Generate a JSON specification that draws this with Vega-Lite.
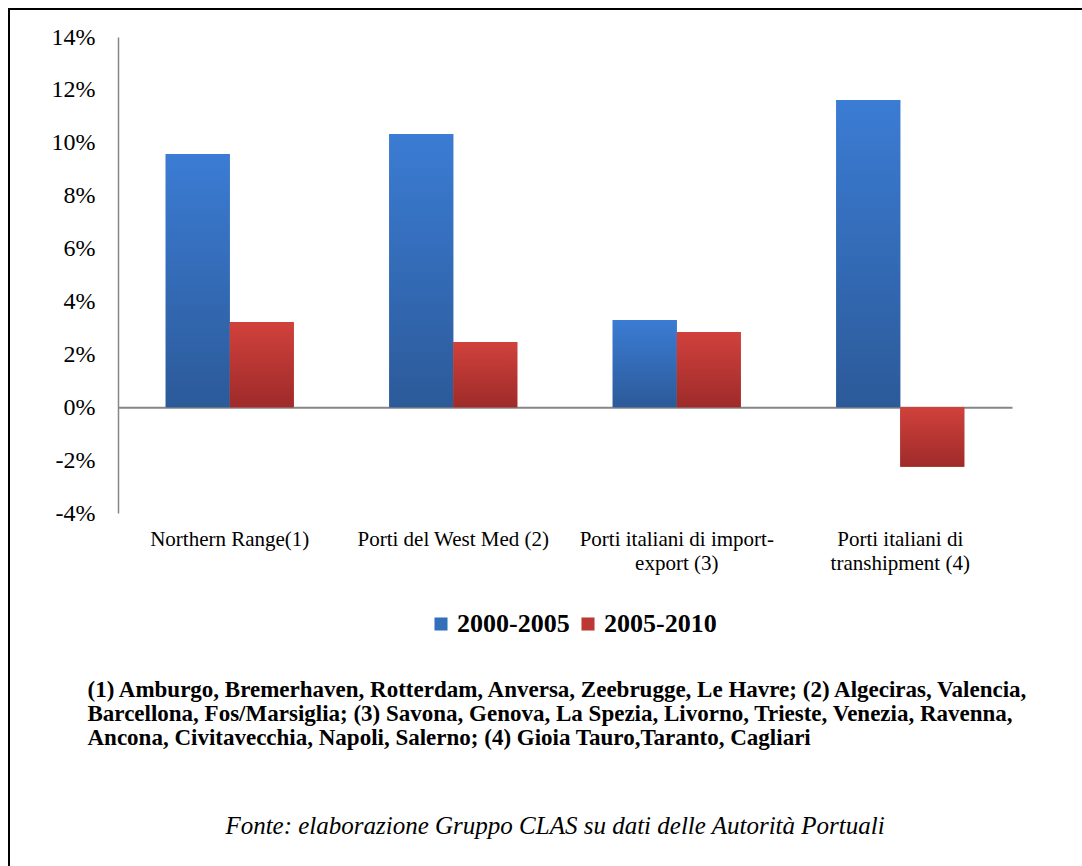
{
  "$schema": "https://vega.github.io/schema/vega-lite/v6.json",
  "width": 1076,
  "height": 860,
  "autosize": {"type": "none"},
  "padding": {"left": 9, "top": 9, "right": -3, "bottom": -3},
  "background": "white",
  "config": {
    "view": {"stroke": "black", "strokeWidth": 2},
    "font": "Liberation Serif, Times New Roman, DejaVu Serif, serif"
  },
  "title": {
    "text": "Fonte: elaborazione Gruppo CLAS su dati delle Autorità Portuali",
    "orient": "bottom",
    "anchor": "middle",
    "frame": "group",
    "offset": -55,
    "dx": 8,
    "baseline": "top",
    "font": "Liberation Serif, Times New Roman, DejaVu Serif, serif",
    "fontSize": 25,
    "fontStyle": "italic",
    "fontWeight": "normal",
    "color": "black"
  },
  "data": {
    "values": [
      {"porto": "Northern Range(1)", "periodo": "2000-2005", "variazione": 0.0958},
      {"porto": "Northern Range(1)", "periodo": "2005-2010", "variazione": 0.0322},
      {"porto": "Porti del West Med (2)", "periodo": "2000-2005", "variazione": 0.1033},
      {"porto": "Porti del West Med (2)", "periodo": "2005-2010", "variazione": 0.0247},
      {"porto": "Porti italiani di import-export (3)", "periodo": "2000-2005", "variazione": 0.0330},
      {"porto": "Porti italiani di import-export (3)", "periodo": "2005-2010", "variazione": 0.0284},
      {"porto": "Porti italiani di transhipment (4)", "periodo": "2000-2005", "variazione": 0.1162},
      {"porto": "Porti italiani di transhipment (4)", "periodo": "2005-2010", "variazione": -0.0225}
    ]
  },
  "encoding": {
    "xOffset": {"field": "periodo", "type": "nominal", "sort": ["2000-2005", "2005-2010"]},
    "y": {
      "field": "variazione",
      "type": "quantitative",
      "scale": {"domain": [-0.04, 0.14], "range": [504, 28], "nice": false},
      "axis": {
        "orient": "left",
        "offset": -109,
        "values": [-0.04, -0.02, 0, 0.02, 0.04, 0.06, 0.08, 0.1, 0.12, 0.14],
        "labelExpr": "(datum.value < 0 ? '-' : '') + format(abs(datum.value), '.0%')",
        "grid": false,
        "ticks": false,
        "domain": true,
        "domainColor": "#868686",
        "domainWidth": 1.5,
        "labelFont": "Liberation Serif, Times New Roman, DejaVu Serif, serif",
        "labelFontSize": 24,
        "labelColor": "black",
        "labelPadding": 23,
        "title": null
      }
    }
  },
  "layer": [
    {
      "mark": {"type": "bar"},
      "encoding": {
        "x": {
          "field": "porto",
          "type": "nominal",
          "sort": null,
          "scale": {"range": [109, 1003], "paddingInner": 0.427, "paddingOuter": 0.2135},
          "axis": {
            "orient": "bottom",
            "offset": -356,
            "domain": false,
            "ticks": false,
            "grid": false,
            "labelAngle": 0,
            "labelFont": "Liberation Serif, Times New Roman, DejaVu Serif, serif",
            "labelFontSize": 21,
            "labelLineHeight": 24,
            "labelPadding": 15,
            "labelColor": "black",
            "labelLimit": 0,
            "labelExpr": "datum.value == 'Porti italiani di import-export (3)' ? ['Porti italiani di import-', 'export (3)'] : datum.value == 'Porti italiani di transhipment (4)' ? ['Porti italiani di', 'transhipment (4)'] : datum.value",
            "title": [
              "(1) Amburgo, Bremerhaven, Rotterdam, Anversa, Zeebrugge, Le Havre; (2) Algeciras, Valencia,",
              "Barcellona, Fos/Marsiglia; (3) Savona, Genova, La Spezia, Livorno, Trieste, Venezia, Ravenna,",
              "Ancona, Civitavecchia, Napoli, Salerno; (4) Gioia Tauro,Taranto, Cagliari"
            ],
            "titleFont": "Liberation Serif, Times New Roman, DejaVu Serif, serif",
            "titleFontSize": 23,
            "titleFontWeight": "bold",
            "titleLineHeight": 24,
            "titleColor": "black",
            "titleAngle": 0,
            "titleAlign": "left",
            "titleBaseline": "top",
            "titleX": 78,
            "titleY": 165
          }
        },
        "color": {
          "field": "periodo",
          "type": "nominal",
          "scale": {"domain": ["2000-2005", "2005-2010"], "range": ["#3470BA", "#BC3834"]},
          "legend": {
            "orient": "none",
            "legendX": 419,
            "legendY": 602,
            "direction": "horizontal",
            "title": null,
            "padding": 0,
            "symbolType": "square",
            "symbolSize": 170,
            "symbolStrokeWidth": 0,
            "labelFont": "Liberation Serif, Times New Roman, DejaVu Serif, serif",
            "labelFontSize": 26,
            "labelFontWeight": "bold",
            "labelColor": "black",
            "labelOffset": 3,
            "labelLimit": 0,
            "columnPadding": 5
          }
        }
      }
    },
    {
      "transform": [{"filter": "datum.periodo == '2000-2005'"}],
      "mark": {
        "type": "bar",
        "fill": {
          "gradient": "linear",
          "x1": 0, "y1": 0, "x2": 0, "y2": 1,
          "stops": [
            {"offset": 0, "color": "#3B7CD4"},
            {"offset": 1, "color": "#2C5A99"}
          ]
        }
      },
      "encoding": {
        "x": {
          "field": "porto",
          "type": "nominal",
          "sort": null,
          "axis": {
            "orient": "top",
            "offset": -398.2,
            "labels": false,
            "ticks": false,
            "grid": false,
            "domain": true,
            "domainColor": "#868686",
            "domainWidth": 2,
            "title": null
          }
        }
      }
    },
    {
      "transform": [{"filter": "datum.periodo == '2005-2010'"}],
      "mark": {
        "type": "bar",
        "fill": {
          "gradient": "linear",
          "x1": 0, "y1": 0, "x2": 0, "y2": 1,
          "stops": [
            {"offset": 0, "color": "#D1413C"},
            {"offset": 1, "color": "#9E2B2A"}
          ]
        }
      },
      "encoding": {
        "x": {"field": "porto", "type": "nominal", "sort": null, "axis": null}
      }
    }
  ],
  "resolve": {"axis": {"x": "independent"}}
}
